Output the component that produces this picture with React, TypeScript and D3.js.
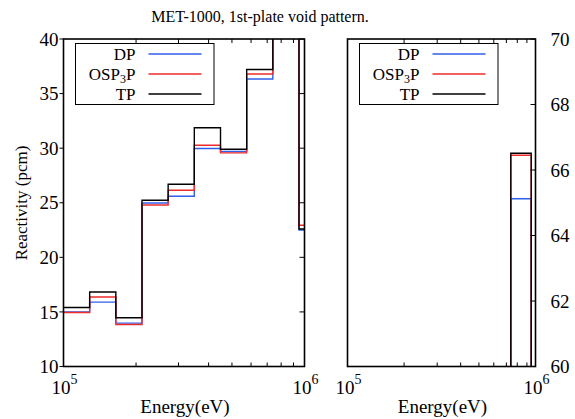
import * as d3 from 'd3';

// group boundaries (eV) and reactivity per group (pcm)
const edges = [1.0e5, 1.284e5, 1.649e5, 2.117e5, 2.718e5, 3.49e5, 4.482e5, 5.755e5, 7.389e5, 9.488e5, 1.218e6];
const dpValues = [15.0, 15.9, 13.97, 24.98, 25.6, 29.97, 29.7, 36.33, 65.12, 22.5];
const ospValues = [14.95, 16.36, 13.85, 24.8, 26.15, 30.27, 29.57, 36.8, 66.45, 22.94];
const tpValues = [15.41, 16.82, 14.47, 25.23, 26.7, 31.87, 29.9, 37.2, 66.51, 22.6];
const leftTicks = [10, 15, 20, 25, 30, 35, 40];
const rightTicks = [60, 62, 64, 66, 68, 70];
const minorTicks = [2e5, 3e5, 4e5, 5e5, 6e5, 7e5, 8e5, 9e5];

const W = 575;
const H = 419;
const TOP = 39;
const BOTTOM = 366.5;
const FONT = '"Liberation Serif", "DejaVu Serif", serif';

const series = [
  { name: 'DP', values: dpValues, color: '#2f5fe8' },
  { name: 'OSP3P', values: ospValues, color: '#ee2b2b' },
  { name: 'TP', values: tpValues, color: '#000000' },
];

function stepPath(values: number[], x: d3.ScaleLogarithmic<number, number>, y: d3.ScaleLinear<number, number>) {
  const pts: [number, number][] = [];
  values.forEach((v, i) => {
    pts.push([x(edges[i]), y(v)]);
    pts.push([x(edges[i + 1]), y(v)]);
  });
  return d3.line()(pts) || '';
}

function Panel({ id, x0, x1, domain, yTicks, side }: { id: string; x0: number; x1: number; domain: [number, number]; yTicks: number[]; side: 'left' | 'right' }) {
  const x = d3.scaleLog().domain([1e5, 1e6]).range([x0, x1]);
  const y = d3.scaleLinear().domain(domain).range([BOTTOM, TOP]);
  const legX = x0 + 12;
  const textEnd = x0 + 72;
  return (
    <g>
      <defs>
        <clipPath id={id}>
          <rect x={x0} y={TOP} width={x1 - x0} height={BOTTOM - TOP} />
        </clipPath>
      </defs>
      <g clipPath={`url(#${id})`}>
        {series.map((s) => (
          <path key={s.name} d={stepPath(s.values, x, y)} fill="none" stroke={s.color} strokeWidth={1.4} />
        ))}
      </g>
      <rect x={x0} y={TOP} width={x1 - x0} height={BOTTOM - TOP} fill="none" stroke="#000" strokeWidth={1.6} />
      {minorTicks.map((t) => (
        <g key={t}>
          <line x1={x(t)} x2={x(t)} y1={TOP} y2={TOP + 4} stroke="#000" strokeWidth={1} />
          <line x1={x(t)} x2={x(t)} y1={BOTTOM} y2={BOTTOM - 4} stroke="#000" strokeWidth={1} />
        </g>
      ))}
      {yTicks.map((t) =>
        side === 'left' ? (
          <g key={t}>
            <line x1={x0 - 4} x2={x0} y1={y(t)} y2={y(t)} stroke="#000" strokeWidth={1} />
            <line x1={x1 - 5} x2={x1} y1={y(t)} y2={y(t)} stroke="#000" strokeWidth={1} />
            <text x={x0 - 5} y={y(t)} dy="0.35em" textAnchor="end" fontSize={19}>{t}</text>
          </g>
        ) : (
          <g key={t}>
            <line x1={x1 - 5} x2={x1} y1={y(t)} y2={y(t)} stroke="#000" strokeWidth={1} />
            <text x={x1 + 15} y={y(t)} dy="0.35em" textAnchor="start" fontSize={19}>{t}</text>
          </g>
        )
      )}
      {[
        { v: 1e5, e: '5' },
        { v: 1e6, e: '6' },
      ].map((d) => (
        <text key={d.e} x={x(d.v) + 1} y={394} textAnchor="middle" fontSize={19}>
          10<tspan dy={-10} fontSize={14}>{d.e}</tspan>
        </text>
      ))}
      <text x={(x0 + x1) / 2 + 1} y={413} textAnchor="middle" fontSize={19}>Energy(eV)</text>
      <rect x={legX} y={43.5} width={138.5} height={61} fill="#fff" stroke="#000" strokeWidth={1} />
      {series.map((s, i) => {
        const ly = 54 + i * 20;
        return (
          <g key={s.name}>
            <text x={textEnd} y={ly} dy="0.35em" textAnchor="end" fontSize={17}>
              {s.name === 'OSP3P' ? (
                <>
                  OSP<tspan dy={3} fontSize={12}>3</tspan>
                  <tspan dy={-3}>P</tspan>
                </>
              ) : (
                s.name
              )}
            </text>
            <line x1={x0 + 85} x2={x0 + 138} y1={ly} y2={ly} stroke={s.color} strokeWidth={1.4} />
          </g>
        );
      })}
    </g>
  );
}

export default function App() {
  return (
    <svg width={W} height={H} style={{ position: 'absolute', left: 0, top: 0, background: '#fff' }} fontFamily={FONT}>
      <text x={260} y={22} textAnchor="middle" fontSize={16}>MET-1000, 1st-plate void pattern.</text>
      <text transform="translate(27,203) rotate(-90)" textAnchor="middle" fontSize={17}>Reactivity (pcm)</text>
      <Panel id="clipL" x0={63.5} x1={304.5} domain={[10, 40]} yTicks={leftTicks} side="left" />
      <Panel id="clipR" x0={347.5} x1={535.5} domain={[60, 70]} yTicks={rightTicks} side="right" />
    </svg>
  );
}
